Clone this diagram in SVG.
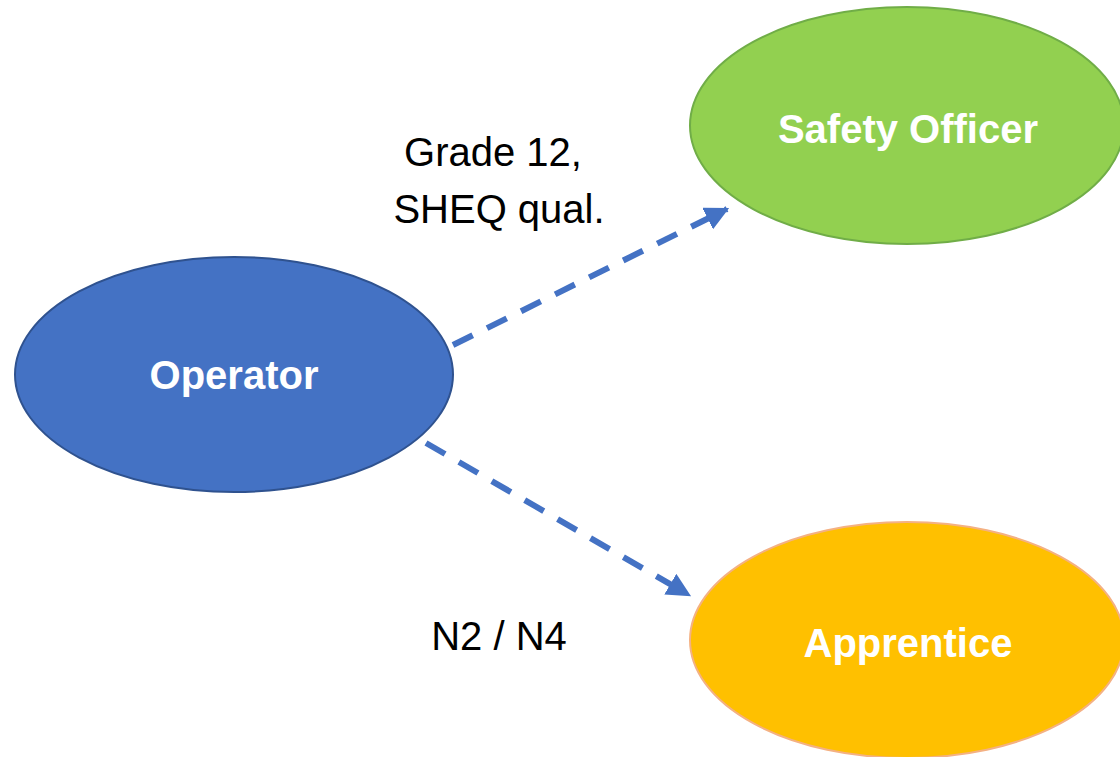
<svg xmlns="http://www.w3.org/2000/svg" width="1120" height="757" viewBox="0 0 1120 757">
<style>
.lbl{font-family:"Liberation Sans",Arial,sans-serif;font-size:40px;font-weight:bold;fill:#fff;text-anchor:middle}
.elbl{font-family:"Liberation Sans",Arial,sans-serif;font-size:40px;fill:#000;text-anchor:middle}
.conn{stroke:#4472C4;stroke-width:6;stroke-dasharray:22 16;fill:none}
</style>
<defs>
<marker id="ah" viewBox="0 0 10 10" refX="9" refY="5" markerWidth="4" markerHeight="4" markerUnits="strokeWidth" orient="auto">
<path d="M0,0 L10,5 L0,10 z" fill="#4472C4"/>
</marker>
</defs>
<rect width="1120" height="757" fill="#fff"/>
<g id="connectors">
<line class="conn" x1="453" y1="345" x2="727" y2="209" marker-end="url(#ah)"/>
<line class="conn" x1="426" y1="443" x2="689" y2="595" marker-end="url(#ah)"/>
<text class="elbl" x="493" y="166">Grade 12,</text>
<text class="elbl" x="499" y="223">SHEQ qual.</text>
<text class="elbl" x="499" y="650">N2 / N4</text>
</g>
<g id="operator">
<ellipse cx="234" cy="374.5" rx="219" ry="117.5" fill="#4472C4" stroke="#2F528F" stroke-width="2"/>
<text class="lbl" x="234" y="389">Operator</text>
</g>
<g id="safety-officer">
<ellipse cx="907" cy="125.5" rx="217" ry="118.5" fill="#92D050" stroke="#70AD47" stroke-width="2"/>
<text class="lbl" x="908" y="143">Safety Officer</text>
</g>
<g id="apprentice">
<ellipse cx="907" cy="640" rx="217" ry="118" fill="#FFC000" stroke="#F4B183" stroke-width="2"/>
<text class="lbl" x="908" y="657">Apprentice</text>
</g>
</svg>
